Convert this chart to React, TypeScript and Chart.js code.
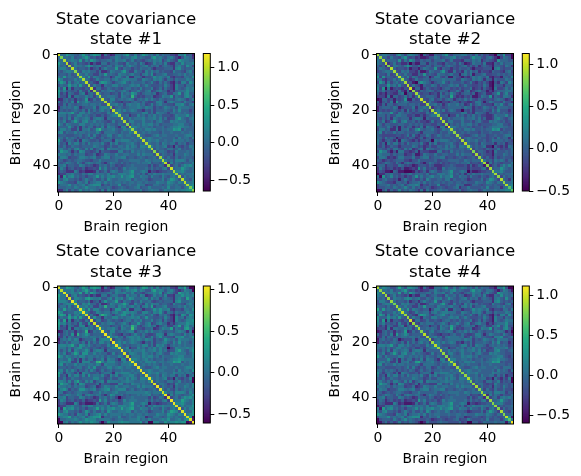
import React, { useEffect, useRef } from "react";
import { Chart, registerables } from "chart.js";

Chart.register(...registerables);

// Digits are hand estimates, upper triangle, aligned to the right edge (col 49).
// Each digit is a level, 0.1 apart; LEVEL_ZERO sets which level is the value zero.
const state1Rows = [
"a87657a75 8a9827423 7768a6585 7a86758576 644387a562",
"7685668a 7564534466 8756768967 6558a78657 864258763",
"67876a5 86a8656677 5877856856 5467687846 8654a87766",
"468565 4625337746 6755486675 8634586758 4337696778",
"58776 8a86785577 5878579765 6785767467 6537865974",
"7566 5735636866 6a54766465 7667535556 6638965667",
"658 7866473358 7668a64486 6486867565 5486654785",
"76 8664476a67 6587767866 4786946678 5566768676",
"8 6a58765663 5886583377 6355697876 8435547769",
" 7645866775 7867887775 5876587864 7647666876",
" 756438a976 4678965766 6756854757 5326488597",
"45 8663766 8867667878 5686555658 6428664776",
"4 43774576 5654677565 8566845747 5428656878",
" 6547678 7567864668 6578457866 3536777977",
" 775664 5648676a85 4677673567 4477a58966",
" 66677 7648765c64 5466734587 7a47658974",
" 6658 8567678746 7686865765 6657876468",
" 758 6543554676 5754458863 7876658664",
" 67 7867478778 6745857866 5548896578",
" 6 4676567778 7687746568 7675877766",
" 6786867875 5365746667 6586966646",
"786555666 6885748776 4676767656",
"86673558 6757686755 5458777967",
"6668677 7867786857 4558a76578",
"758866 6866757865 5878777567",
"74767 6878867566 6677886657",
"6887 6776756675 6788987766",
"576 7688786676 77a9a57666",
"76 6767666576 6766676676",
"7 7655678677 6667667886",
" 4678766766 6675867758",
" 868778667 6687776765",
" 67667587 6774767466",
" 6867678 4527546587",
" 857665 7756856568",
" 65776 4548666767",
" 8576 5637668767",
" 775 7547567665",
" 68 6758887576",
" 6 3857656668",
" 4446757 9897",
" 67677a 8767",
" 77a889 7667",
" 98967 6778",
" 8775 8677",
" 866 7658",
" 75 7778",
" 7 8889",
" a",
];

const state2Rows = [
"887658a75 8987527533 7668a6577 7886758575 644286a552",
"7586658a 6564533466 8756778967 6557a88657 864258762",
"67776a5 86a8557677 5777856855 5477687846 7654a77766",
"468564 4625337747 6755476675 8634587758 4437686778",
"58876 8a86685577 5777578765 6785757467 6537765874",
"7566 5735536876 6a54766465 7667535556 6628965667",
"658 7855473358 7668a64485 6486867465 5476654785",
"76 8664476a67 6587767866 3786836678 5566767676",
"8 6958755673 5886573376 5354687876 8435537769",
" 7645866775 7777877775 5876587874 7637666876",
" 756328a876 4677965766 6756854657 5326487597",
"45 8653766 8757667878 5686655658 6327664776",
"4 43773576 5654677565 7566845647 5428556868",
" 6547678 7567764668 6478457866 3536777887",
" 775664 5648576975 4677573567 4467a57966",
" 56677 7648765b64 5465733587 6a47658874",
" 6657 8567578746 7686865765 6657876458",
" 758 6543554676 4654458863 6876658664",
" 67 7867468778 6745857866 5548796578",
" 6 4676567777 7687746568 7675877766",
" 6786857875 5265746667 6586966646",
"786555666 6885648776 4676767656",
"86673558 6757686755 4458777967",
"6668677 7867786857 4458976578",
"758866 6866757865 5878767567",
"74767 6878867566 6677886657",
"6887 6776756675 6788887766",
"576 7688786676 77a9a57666",
"76 6767666576 6766676676",
"7 7655678677 5667667886",
" 4578766766 5675867748",
" 868778667 5687776765",
" 67667587 6674767466",
" 6867678 4427546487",
" 857665 7656856568",
" 65776 4538666767",
" 8576 5537668767",
" 775 7547567665",
" 68 6758787576",
" 6 3857656668",
" 4446757 9797",
" 67677a 8767",
" 77a889 7667",
" 98967 6778",
" 8775 8677",
" 866 7648",
" 75 7778",
" 7 3889",
" 9",
];

const state3Rows = [
"a98657a85 9a9827423 7778a6675 7a96858576 744387a511",
"7785768a 7574534466 8756878968 7558a78757 864358761",
"77877a5 96a8656677 5877866856 5467787946 8754a87867",
"478565 4635337746 7755486775 8734586758 4437797878",
"58876 9a87785578 5878579866 6785867467 6537865a75",
"8566 5735636966 7a54766465 8667545656 6638966677",
"758 7966473358 7678a74486 6486877566 5486654786",
"77 8674476b67 7587867867 4786a46678 5566768677",
"9 6a58865663 5996583377 6355697977 8435547769",
" 8645876775 7867987875 5886587964 7647666877",
" 757438b976 4679965866 7756854767 5326498598",
"45 9663766 8867677878 5696655658 6428674787",
"4 44774576 5654677576 8566856747 5428656889",
" 6557678 7567864669 6578457866 3536777988",
" 786664 5658676b85 4678673567 4477a58967",
" 77677 8648766c75 5466734687 7a47659a74",
" 6658 8567678846 7686866765 6657876371",
" 768 6543654686 5754458873 7876658675",
" 68 7867478878 6745857966 5548896679",
" 7 4676567878 7687746569 7675877767",
" 6786867876 5365746678 6586967657",
"786565667 6885748786 4676767667",
"86683558 6757686866 1458777878",
"6678677 7867786867 4558a76579",
"758876 6876757865 5878777568",
"74777 6878867576 6677886668",
"6887 6786756675 6788987777",
"576 7688786776 77a9a57677",
"76 6767676576 6766676677",
"7 7655678677 6667667887",
" 4678766776 6675867769",
" 868778677 6687776775",
" 67667587 6774767367",
" 6867678 4527546581",
" 857665 7756856561",
" 65776 4548666768",
" 8576 5637668768",
" 775 7547567676",
" 68 6758887586",
" 6 3857656679",
" 4446757 9897",
" 67677a 8768",
" 77a889 7668",
" 98968 6779",
" 8775 8688",
" 866 7669",
" 75 7789",
" 7 9891",
" 2",
];

const state4Rows = [
"987557b75 9987427422 7768a6585 7986758576 644287a511",
"7685668a 6564534466 8656768967 6558a78657 764258752",
"67876a5 86a8656677 5877856856 5467687746 8654a87765",
"468565 4625337745 6755486675 7634586758 4337696767",
"58776 8986785576 5878569765 6785767467 6537865964",
"7566 5735636865 6a54766465 7667535556 6638965656",
"658 7866473357 7668a64485 6486867565 5486654784",
"76 8664476a66 6587767866 4786846678 5566768665",
"8 6a58765662 5886583376 6355697876 8435547758",
" 7645866774 7867887775 5876587864 7647666875",
" 756438a975 4678965766 6756854757 5326488596",
"45 8663765 8867667878 5686555658 6428664765",
"4 43774575 5654677565 7566845747 5428656877",
" 6547677 7567864668 6578457866 3536777966",
" 775663 5648676a75 4677673567 4477957955",
" 66676 7648765b64 5466734587 7a47658963",
" 6657 8567678746 7686865765 6657876351",
" 757 6543554675 5754458863 6876658653",
" 66 7867478777 6745857866 5548895567",
" 5 4676567777 7687746568 7675877755",
" 6786867874 5365746667 6586956635",
"786555665 6885748776 4676767645",
"86673557 6757686755 5458777856",
"6668676 7867786857 4558966567",
"758865 6866757865 5878766556",
"74766 6878867566 6677886546",
"6886 6776756675 6788977655",
"575 7688786676 77a9a56555",
"75 6767666576 6766666565",
"6 7655678677 6667657775",
" 4678766766 6675867647",
" 868778666 6687766654",
" 67667586 6774757355",
" 6867677 4527536481",
" 857664 7756846561",
" 65775 4548656656",
" 8575 5637658656",
" 774 7547557554",
" 67 6758877465",
" 5 3857646557",
" 4446747 8786",
" 67667a 7656",
" 77a788 6556",
" 98856 5667",
" 8764 7566",
" 855 6547",
" 64 6667",
" 6 5892",
" 7",
];

const diag1 = [1.05,0.8,0.95,1.0,0.9,1.0,0.85,1.0,0.9,0.95,1.0,0.95,1.0,0.9,0.95,0.9,1.0,0.95,1.0,0.85,1.0,0.95,0.9,1.0,0.95,0.85,0.95,0.9,1.0,0.95,0.9,1.0,0.95,0.9,0.95,0.85,1.0,0.9,0.95,1.0,0.9,1.05,0.95,0.9,0.95,1.0,1.0,0.95,0.8,0.85];
const diag2 = [0.9,0.85,0.9,0.95,0.8,0.95,0.9,0.9,0.95,0.85,0.9,0.95,1.0,0.85,0.9,0.85,1.0,0.95,0.9,0.85,0.9,0.95,0.85,0.95,0.9,0.85,1.1,0.9,0.85,0.9,0.85,0.9,0.95,0.85,0.9,0.8,0.9,0.85,0.95,0.9,0.85,0.9,0.85,0.9,0.85,0.95,0.85,0.95,0.7,0.7];
const diag3 = [0.95,0.85,0.95,1.0,0.9,1.0,0.85,1.0,0.95,1.0,0.9,1.0,0.95,0.9,1.0,0.95,1.0,1.0,0.95,0.9,1.0,1.0,0.9,1.0,0.95,0.9,1.0,0.95,1.0,1.0,0.95,1.0,0.95,1.0,0.9,0.95,1.0,0.95,0.9,1.0,0.95,1.0,1.0,0.95,1.0,0.95,1.0,0.9,0.95,1.0];
const diag4 = [0.9,0.8,0.9,0.85,0.85,0.85,0.75,0.9,0.85,0.95,0.85,0.85,1.0,0.85,0.85,0.9,0.8,0.95,0.9,0.85,0.85,0.95,0.85,0.9,0.85,0.8,0.9,0.85,0.95,0.85,0.85,0.8,0.85,0.9,0.75,0.85,0.9,0.8,0.85,0.9,0.8,0.85,0.8,0.85,0.8,0.9,0.8,0.95,0.65,1.1];

const panelTitles = ["state #1", "state #2", "state #3", "state #4"];
const panelRows = [state1Rows, state2Rows, state3Rows, state4Rows];
const panelDiagonals = [diag1, diag2, diag3, diag4];
const colorMins = [-0.64, -0.5, -0.6, -0.59];
const colorMaxs = [1.184, 1.127, 1.04, 1.12];
const axisTicks = [0, 20, 40];
const colorTicks = [-0.5, 0, 0.5, 1];
const canvasLefts = [0, 319];
const canvasTops = [0, 232];

const SIZE = 50;
const LEVELS = "0123456789abc";
const LEVEL_ZERO = 6.7;
const viridisStops = [
  [68,1,84],[72,36,117],[65,68,135],[53,95,141],[42,120,142],[33,145,140],[34,168,132],[68,191,112],[122,209,81],[189,223,38],[253,231,37],
];

function viridis(t: number) {
  const p = Math.max(0, Math.min(1, t)) * (viridisStops.length - 1);
  const i = Math.min(Math.floor(p), viridisStops.length - 2);
  const f = p - i;
  const c = viridisStops[i].map((v, k) => Math.round(v + (viridisStops[i + 1][k] - v) * f));
  return `rgb(${c[0]},${c[1]},${c[2]})`;
}

function buildMatrix(rows: string[], diagonal: number[]) {
  const m: number[][] = Array.from({ length: SIZE }, () => new Array(SIZE).fill(0));
  for (let r = 0; r < SIZE; r++) m[r][r] = diagonal[r];
  rows.forEach((row, r) => {
    const digits = row.replace(/\s/g, "");
    for (let k = 0; k < digits.length; k++) {
      const c = SIZE - 1 - k;
      if (c <= r) break;
      const v = (LEVELS.indexOf(digits[digits.length - 1 - k]) - LEVEL_ZERO) / 10;
      m[r][c] = v;
      m[c][r] = v;
    }
  });
  return m;
}

const BLACK = "#000";
const tickFont = { family: "'DejaVu Sans'", size: 13.9 };
const framePlugin = {
  id: "frame",
  afterDraw(chart: any) {
    const { ctx, chartArea: a } = chart;
    ctx.save();
    ctx.strokeStyle = BLACK;
    ctx.lineWidth = 1;
    ctx.strokeRect(a.left, a.top, a.right - a.left, a.bottom - a.top);
    ctx.restore();
  },
};

// Paints each dataset point as one whole-pixel image cell, placed through the chart's own scales.
const cellPlugin = {
  id: "cells",
  beforeDatasetsDraw(chart: any) {
    const { ctx, scales } = chart;
    const ds = chart.data.datasets[0];
    ds.data.forEach((p: any, i: number) => {
      const x0 = Math.round(scales.x.getPixelForValue(p.x - 0.5));
      const x1 = Math.round(scales.x.getPixelForValue(p.x + 0.5));
      const y0 = Math.round(scales.y.getPixelForValue(p.y - 0.5));
      const y1 = Math.round(scales.y.getPixelForValue(p.y + 0.5));
      ctx.fillStyle = ds.cellColors[i];
      ctx.fillRect(x0, y0, x1 - x0, y1 - y0);
    });
  },
};

function Panel({ index }: { index: number }) {
  const heatRef = useRef<HTMLCanvasElement>(null);
  const barRef = useRef<HTMLCanvasElement>(null);
  const vmin = colorMins[index];
  const vmax = colorMaxs[index];
  const left = canvasLefts[index % 2];
  const top = canvasTops[Math.floor(index / 2)];
  const plotTop = index < 2 ? 53.5 : 54;

  useEffect(() => {
    const matrix = buildMatrix(panelRows[index], panelDiagonals[index]);
    const points: { x: number; y: number }[] = [];
    const colors: string[] = [];
    matrix.forEach((row, y) =>
      row.forEach((v, x) => {
        points.push({ x, y });
        colors.push(viridis((v - vmin) / (vmax - vmin)));
      })
    );
    const ticksAt = (scale: any) => { scale.ticks = axisTicks.map((value) => ({ value })); };
    const grid = { drawOnChartArea: false, drawTicks: true, tickLength: 4, tickWidth: 1, tickColor: BLACK };
    const heat = new Chart(heatRef.current!, {
      type: "scatter",
      data: { datasets: [{ data: points, cellColors: colors, pointRadius: 0, pointHoverRadius: 0, xAxisID: "x", yAxisID: "y" }] },
      options: {
        animation: false, responsive: false, maintainAspectRatio: false, events: [],
        layout: { padding: 0 },
        plugins: {
          legend: { display: false }, tooltip: { enabled: false },
          title: {
            display: true, text: ["State covariance", panelTitles[index]], color: BLACK,
            font: { family: "'DejaVu Sans'", size: 16.67, weight: "normal", lineHeight: 1.23 },
            padding: { top: plotTop - 44.5, bottom: 3.5 },
          },
        },
        scales: {
          x: {
            type: "linear", min: -0.5, max: 49.5, afterBuildTicks: ticksAt,
            afterFit: (s: any) => { s.height = 44; }, grid, border: { display: false },
            ticks: { color: BLACK, font: tickFont, padding: 2, maxRotation: 0, autoSkip: false },
            title: { display: true, text: "Brain region", color: BLACK, font: tickFont, padding: { top: 1, bottom: 0 } },
          },
          y: {
            type: "linear", reverse: true, min: -0.5, max: 49.5, afterBuildTicks: ticksAt,
            afterFit: (s: any) => { s.width = 57.5; }, grid, border: { display: false },
            ticks: { color: BLACK, font: tickFont, padding: 3, autoSkip: false },
            title: { display: true, text: "Brain region", color: BLACK, font: tickFont, padding: { top: 8, bottom: 0 } },
          },
          spacer: {
            type: "linear", axis: "y", position: "right", afterFit: (s: any) => { s.width = 57.5; },
            grid: { display: false }, border: { display: false }, ticks: { display: false },
          },
        },
      },
      plugins: [cellPlugin, framePlugin],
    } as any);

    const steps = 128;
    const bars: [number, number][] = [];
    const barColors: string[] = [];
    for (let i = 0; i < steps; i++) {
      bars.push([vmin + ((vmax - vmin) * i) / steps, vmin + ((vmax - vmin) * (i + 1.3)) / steps]);
      barColors.push(viridis((i + 0.5) / steps));
    }
    const bar = new Chart(barRef.current!, {
      type: "bar",
      data: {
        labels: ["c"],
        datasets: bars.map((b, i) => ({ data: [b], backgroundColor: barColors[i], grouped: false, categoryPercentage: 1, barPercentage: 1, borderWidth: 0 })),
      },
      options: {
        animation: false, responsive: false, maintainAspectRatio: false, events: [],
        layout: { padding: { left: 3.3, top: plotTop, bottom: 45, right: 0 } },
        plugins: { legend: { display: false }, tooltip: { enabled: false } },
        scales: {
          x: { display: false },
          y: {
            position: "right", min: vmin, max: vmax,
            afterBuildTicks: (s: any) => { s.ticks = colorTicks.filter((v) => v >= vmin && v <= vmax).map((value) => ({ value })); },
            afterFit: (s: any) => { s.width = 50.7; },
            grid, border: { display: false },
            ticks: {
              color: BLACK, font: tickFont, padding: 3, autoSkip: false,
              callback: (v: any) => (Number(v) < 0 ? "\u2212" + Math.abs(Number(v)).toFixed(1) : Number(v).toFixed(1)),
            },
          },
        },
      },
      plugins: [framePlugin],
    } as any);
    return () => { heat.destroy(); bar.destroy(); };
  }, [index]);

  return (
    <>
      <canvas ref={heatRef} width={252} height={236} style={{ position: "absolute", left, top, display: "block" }} />
      <canvas ref={barRef} width={61} height={236} style={{ position: "absolute", left: left + 200, top, display: "block" }} />
    </>
  );
}

export default function App() {
  return (
    <div style={{ position: "fixed", left: 0, top: 0, width: 581, height: 476, background: "#fff", overflow: "hidden" }}>
      {panelTitles.map((_, i) => <Panel key={i} index={i} />)}
    </div>
  );
}
